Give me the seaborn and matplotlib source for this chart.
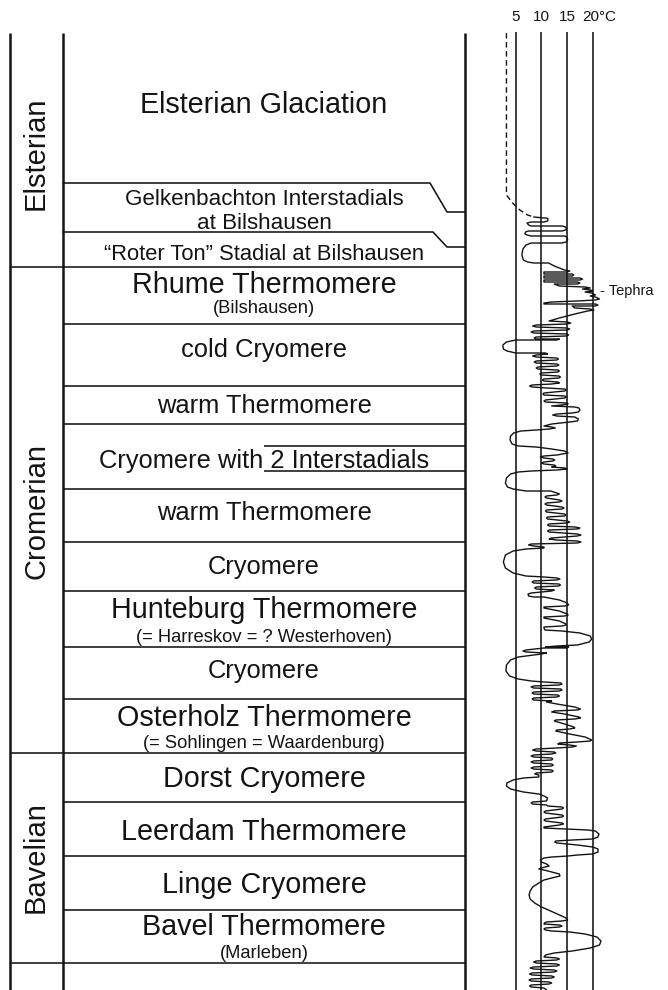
import numpy as np
import pandas as pd
import seaborn as sns
import matplotlib.pyplot as plt

sns.set_theme(style="white")
plt.rcParams['font.family'] = ['Liberation Sans', 'DejaVu Sans']

# --- stratigraphic column (depth in figure units, 0 at top) ---
stages = ["Elsterian", "Cromerian", "Bavelian"]
stage_mid = [153, 511, 857]
stage_breaks = [267, 753, 963]

unit_breaks = [324, 386, 424, 489, 542, 591, 647, 699, 802, 856, 910]
bilshausen_left = [183, 232]     # stepped boundaries, depth at left
bilshausen_right = [212, 247]    # depth where they meet the right edge
bilshausen_bend = [430, 433]
interstadial_lines = [446, 471]

unit_text = ["Elsterian Glaciation", "Gelkenbachton Interstadials", "at Bilshausen",
             "\u201cRoter Ton\u201d Stadial at Bilshausen", "Rhume Thermomere",
             "cold Cryomere", "warm Thermomere", "Cryomere with 2 Interstadials",
             "warm Thermomere", "Cryomere", "Hunteburg Thermomere", "Cryomere",
             "Osterholz Thermomere", "Dorst Cryomere", "Leerdam Thermomere",
             "Linge Cryomere", "Bavel Thermomere"]
unit_base = [113, 205, 229, 260, 293, 357, 413, 468, 520, 574, 618, 678, 726,
             787, 840, 893, 935]
unit_size = [20.7, 16.1, 16.1, 15.8, 20.7, 18.4, 18.4, 18.4, 18.4, 18.4, 20.7,
             18.4, 20.7, 20.7, 20.7, 20.7, 20.7]

note_text = ["(Bilshausen)", "(= Harreskov = ? Westerhoven)",
             "(= Sohlingen = Waardenburg)", "(Marleben)"]
note_base = [313, 642, 748, 958]

# --- temperature curve (July temperature, degC) ---
temp_ticks = [5, 10, 15, 20]
temp_labels = ["5", "10", "15"]

dashed = [(33, 3.2), (195, 3.2), (203, 4.4), (210, 5.8), (215, 7.3), (217, 8.5)]

curve = [
    (217, 8.5), (218, 10.5), (218, 11.0), (219, 11.3), (221, 11.2), (222, 10.5),
    (222, 8.0), (223, 7.2), (225, 7.5), (226, 8.0), (226, 14.0), (227, 14.7),
    (229, 14.9), (230, 14.7), (231, 14.0), (231, 7.5), (232, 6.9), (234, 6.8),
    (235, 7.2), (236, 8.0), (236, 14.5), (237, 15.0), (240, 15.1), (242, 14.8),
    (243, 14.0), (243, 8.0), (245, 7.0), (249, 6.4), (255, 6.2), (260, 6.5),
    (262, 7.3), (263, 8.5), (263, 11.4),
    # Rhume Thermomere
    (266, 12.5), (268, 13.5), (270, 14.5), (271, 15.5), (272, 15.0), (272, 10.5),
    (274, 10.5), (274, 16.0), (275, 16.3), (276, 16.0), (276, 10.5), (278, 10.5),
    (278, 17.5), (279, 18.0), (280, 17.5), (280, 10.5), (282, 10.5), (282, 17.0),
    (283, 17.5), (284, 17.0), (284, 12.5), (286, 13.5), (287, 18.5), (288, 19.5),
    (289, 18.0), (290, 19.5), (291, 20.0), (292, 18.5), (293, 19.8), (295, 20.5),
    (296, 19.5), (297, 20.5), (299, 21.3), (300, 20.5), (301, 17.0), (302, 12.0),
    (303, 10.5), (304, 10.5), (304, 20.5), (305, 21.0), (306, 20.5), (306, 16.0),
    (308, 16.5), (309, 19.5), (310, 20.2), (311, 19.0), (314, 16.5), (318, 13.5),
    (321, 11.5),
    # cold Cryomere
    (322, 15.0), (323, 15.7), (324, 15.0), (325, 9.0), (326, 8.3), (327, 9.0),
    (328, 15.0), (329, 15.5), (330, 15.0), (331, 8.5), (332, 8.0), (333, 8.5),
    (334, 15.0), (335, 15.3), (336, 14.8), (337, 9.0), (338, 8.6), (339, 9.0),
    (339, 13.5), (340, 13.0), (340, 5.0), (342, 3.2), (345, 2.5), (349, 2.6),
    (351, 3.3), (353, 5.0), (353, 10.8), (354, 11.2), (355, 9.0), (356, 8.3),
    (357, 9.0), (358, 13.0), (359, 13.3), (360, 13.0), (361, 9.0), (362, 8.6),
    (363, 9.0), (364, 13.0), (365, 13.4), (366, 13.0), (367, 9.3), (368, 9.0),
    (369, 9.3), (370, 13.2), (371, 13.5), (372, 13.2), (373, 10.0), (374, 9.7),
    (375, 10.0), (376, 13.4), (377, 13.7), (378, 13.4), (379, 10.5), (380, 10.2),
    (381, 10.5), (382, 13.2), (383, 13.5), (384, 12.0), (385, 8.2), (386, 7.7),
    (387, 8.2), (388, 11.0),
    # warm Thermomere
    (389, 14.5), (390, 14.9), (391, 14.5), (393, 10.5), (394, 10.3), (395, 10.5),
    (396, 14.5), (397, 14.9), (398, 14.5), (400, 10.8), (401, 10.5), (402, 10.8),
    (403, 15.0), (404, 15.2), (405, 14.0), (406, 12.0), (407, 16.5), (408, 17.3),
    (410, 17.5), (412, 17.2), (413, 16.0), (414, 13.0), (415, 12.2), (416, 13.0),
    (417, 16.5), (419, 17.2), (421, 17.0), (422, 15.5), (424, 12.0), (426, 10.5),
    (427, 12.0), (428, 12.7), (429, 11.5), (430, 9.0), (431, 6.0), (433, 4.6),
    (436, 4.0), (440, 3.9), (444, 4.3), (446, 5.5), (447, 9.0), (449, 12.0),
    (451, 14.5), (453, 15.2), (455, 13.0), (456, 10.5), (457, 9.8), (458, 10.5),
    (459, 12.2), (460, 12.6), (461, 12.2), (462, 10.5), (463, 10.0), (464, 10.5),
    (465, 12.5), (466, 12.8), (467, 12.0), (468, 14.5), (469, 15.0), (470, 13.0),
    (471, 8.0), (472, 5.5), (474, 4.0), (478, 3.2), (483, 3.0), (487, 3.4),
    (489, 4.5), (491, 7.0), (491, 11.8),
    # warm Thermomere
    (493, 13.0), (494, 13.5), (495, 13.0), (496, 11.0), (497, 10.7), (498, 11.0),
    (500, 13.5), (501, 14.0), (502, 13.5), (503, 11.0), (504, 10.7), (505, 11.0),
    (507, 14.0), (508, 14.4), (509, 14.0), (510, 11.0), (511, 10.8), (512, 11.0),
    (514, 14.5), (515, 14.8), (516, 14.5), (517, 11.2), (518, 11.0), (519, 11.2),
    (521, 15.0), (522, 15.5), (523, 15.0), (524, 11.5), (525, 11.2), (526, 11.5),
    (527, 16.5), (528, 17.5), (529, 17.0), (530, 11.5), (531, 11.2), (532, 11.5),
    (534, 17.0), (535, 17.7), (536, 17.0), (538, 12.0), (539, 11.5), (540, 13.0),
    (541, 17.0), (542, 17.7), (543, 17.0), (544, 8.0), (545, 7.5), (546, 8.5),
    (547, 10.5), (548, 10.5), (549, 7.0), (551, 4.5), (555, 3.0), (562, 2.6),
    (568, 3.0), (573, 4.5), (576, 7.0), (577, 10.5),
    # Cryomere
    (578, 13.0), (579, 13.6), (580, 13.0), (581, 8.5), (582, 8.2), (583, 8.5),
    (584, 13.4), (585, 13.7), (586, 13.4), (587, 9.0), (588, 8.7), (589, 9.0),
    (590, 12.5), (591, 12.0), (593, 8.0), (594, 7.4), (596, 7.5), (597, 8.5),
    # Hunteburg Thermomere
    (597, 10.5), (600, 13.5), (603, 15.0), (605, 15.3), (606, 14.5), (607, 10.5),
    (608, 10.5), (611, 13.5), (614, 15.0), (615, 15.2), (616, 14.5), (617, 10.5),
    (618, 10.5), (621, 13.5), (624, 14.8), (625, 14.8), (626, 14.0), (627, 10.5),
    (628, 10.5), (630, 10.7), (631, 14.0), (633, 17.5), (636, 19.5), (639, 19.8),
    (642, 19.3), (645, 17.0), (646, 13.0), (647, 10.8), (647, 15.3), (648, 15.0),
    (648, 10.5), (650, 7.0), (651, 6.4), (652, 7.0), (653, 11.0), (654, 10.0),
    (656, 7.0),
    # Cryomere
    (657, 5.5), (660, 4.0), (665, 3.2), (671, 3.1), (676, 3.8), (679, 5.5),
    (681, 8.0), (682, 10.5), (683, 13.8), (684, 14.0), (685, 13.5), (686, 8.5),
    (687, 8.0), (688, 8.5), (689, 13.8), (690, 14.0), (691, 13.5), (692, 8.5),
    (693, 8.2), (694, 8.5), (695, 13.2), (696, 13.5), (697, 13.0), (698, 8.5),
    (699, 8.2), (700, 8.5), (701, 12.0),
    # Osterholz Thermomere
    (702, 11.0), (704, 13.0), (707, 16.5), (709, 17.6), (710, 17.0), (711, 12.5),
    (712, 12.0), (714, 14.5), (717, 17.3), (718, 17.6), (719, 16.5), (720, 12.8),
    (721, 12.5), (724, 14.5), (727, 16.3), (728, 16.5), (729, 15.5), (730, 13.0),
    (731, 12.8), (734, 15.5), (737, 18.5), (740, 19.8), (741, 19.5), (742, 17.0),
    (743, 13.5), (744, 13.2), (745, 15.5), (746, 16.8), (747, 16.0), (748, 13.0),
    (749, 9.0), (750, 8.3), (751, 9.0), (752, 12.5), (753, 12.8), (754, 12.0),
    # Dorst Cryomere
    (755, 8.5), (756, 8.0), (757, 8.5), (758, 12.0), (759, 12.2), (760, 12.0),
    (761, 8.5), (762, 8.0), (763, 8.5), (764, 12.0), (765, 12.3), (766, 12.0),
    (767, 8.5), (768, 8.0), (769, 8.5), (770, 12.0), (771, 12.3), (772, 12.0),
    (773, 9.0), (774, 8.7), (775, 9.5), (777, 9.5), (778, 6.5), (780, 4.5),
    (783, 3.3), (786, 3.2), (789, 4.0), (792, 6.5), (794, 9.5), (796, 10.5),
    (798, 11.2), (801, 11.0), (802, 8.3), (803, 8.0), (804, 8.3), (805, 11.0),
    (806, 11.2),
    # Leerdam Thermomere
    (807, 14.0), (808, 14.3), (809, 14.0), (811, 10.8), (812, 10.5), (813, 10.8),
    (815, 14.0), (816, 14.3), (817, 14.0), (819, 10.8), (820, 10.5), (821, 10.8),
    (823, 14.0), (824, 14.3), (825, 13.5), (827, 10.5), (828, 10.5), (829, 15.0),
    (830, 19.0), (831, 20.5), (834, 21.2), (837, 21.0), (839, 20.0), (840, 16.0),
    (841, 12.8), (842, 12.6), (843, 13.0), (845, 17.0), (847, 20.0), (849, 21.0),
    (852, 21.0), (854, 20.0), (855, 17.0), (856, 15.2), (857, 12.0), (858, 10.5),
    # Linge Cryomere
    (860, 9.8), (862, 10.0), (864, 11.0), (866, 11.5), (868, 10.0), (869, 9.5),
    (870, 10.5), (872, 12.0), (874, 13.5), (876, 13.6), (878, 12.0), (880, 10.5),
    (883, 9.5), (887, 8.3), (891, 7.8), (895, 7.6), (899, 7.8), (903, 8.7),
    (907, 10.0), (911, 11.8), (915, 13.5), (918, 14.8), (920, 15.1), (921, 14.0),
    (922, 11.0), (923, 10.6), (924, 10.5), (925, 13.5), (926, 14.0), (927, 13.5),
    (928, 10.8), (929, 10.5), (930, 10.8),
    # Bavel Thermomere
    (931, 12.0), (932, 15.5), (934, 18.5), (937, 20.8), (941, 21.6), (945, 21.3),
    (948, 19.5), (951, 16.0), (953, 12.5), (955, 10.8), (957, 10.5), (958, 13.0),
    (959, 13.5), (960, 13.0), (961, 9.0), (962, 8.5), (963, 9.0), (964, 13.0),
    (965, 13.5), (966, 13.0), (967, 8.5), (968, 7.8), (969, 8.5), (970, 12.5),
    (971, 13.0), (972, 12.5), (973, 8.2), (974, 7.7), (975, 8.2), (976, 12.0),
    (977, 12.5), (978, 12.0), (979, 8.0), (980, 7.6), (981, 8.0), (982, 11.5),
    (983, 12.0), (984, 11.5), (985, 8.0), (986, 7.7), (987, 8.0), (988, 10.5),
    (990, 11.0),
]

curve_df = pd.DataFrame(curve, columns=["depth", "temp"])
dashed_df = pd.DataFrame(dashed, columns=["depth", "temp"])

ink = "#141414"

fig = plt.figure(figsize=(6.68, 9.9), dpi=100)
fig.patch.set_facecolor("white")

# column axes in pixel-like units
ax = fig.add_axes([0, 0, 1, 1])
ax.set_xlim(0, 668)
ax.set_ylim(990, 0)
ax.axis("off")

col_left, col_sep, col_right = 10, 63, 465
col_top, col_bottom = 33, 990
mid_x = (col_sep + col_right) / 2

ax.vlines([col_left, col_sep, col_right], col_top, col_bottom, color=ink, lw=1.8)
ax.hlines(stage_breaks, col_left, col_right, color=ink, lw=1.15)
ax.hlines(unit_breaks, col_sep, col_right, color=ink, lw=1.15)
for yl, yr, xb in zip(bilshausen_left, bilshausen_right, bilshausen_bend):
    ax.plot([col_sep, xb, 447, col_right], [yl, yl, yr, yr], color=ink, lw=1.15)
ax.hlines(interstadial_lines, 264, col_right, color=ink, lw=1.15)

for name, y in zip(stages, stage_mid):
    ax.text(36, y, name, rotation=90, ha="center", va="center", fontsize=21, color=ink)

for txt, y, size in zip(unit_text, unit_base, unit_size):
    ax.text(mid_x, y, txt, ha="center", va="baseline", fontsize=size, color=ink)
for txt, y in zip(note_text, note_base):
    ax.text(mid_x, y, txt, ha="center", va="baseline", fontsize=13.2, color=ink)

# temperature axes (x in degC)
ax2 = fig.add_axes([470 / 668, 0, 198 / 668, 1])
ax2.patch.set_alpha(0)

ax2.vlines(temp_ticks, 32, 990, color=ink, lw=1.15)
for t, lab in zip(temp_ticks, temp_labels):
    ax2.text(t, 21, lab, ha="center", va="baseline", fontsize=11, color=ink)
ax2.text(18.0, 21, "20\u00b0C", ha="left", va="baseline", fontsize=11, color=ink)

sns.lineplot(data=dashed_df, x="temp", y="depth", sort=False, estimator=None,
             color=ink, lw=1.0, linestyle=(0, (4, 2.5)), ax=ax2)
sns.lineplot(data=curve_df, x="temp", y="depth", sort=False, estimator=None,
             color=ink, lw=1.0, ax=ax2)
ax2.text(21.4, 295, "- Tephra", ha="left", va="baseline", fontsize=10.5, color=ink)

ax2.set_xlim(-3.89, 34.63)
ax2.set_ylim(990, 0)
ax2.axis("off")

fig.savefig("out.png", dpi=100, facecolor="white")
